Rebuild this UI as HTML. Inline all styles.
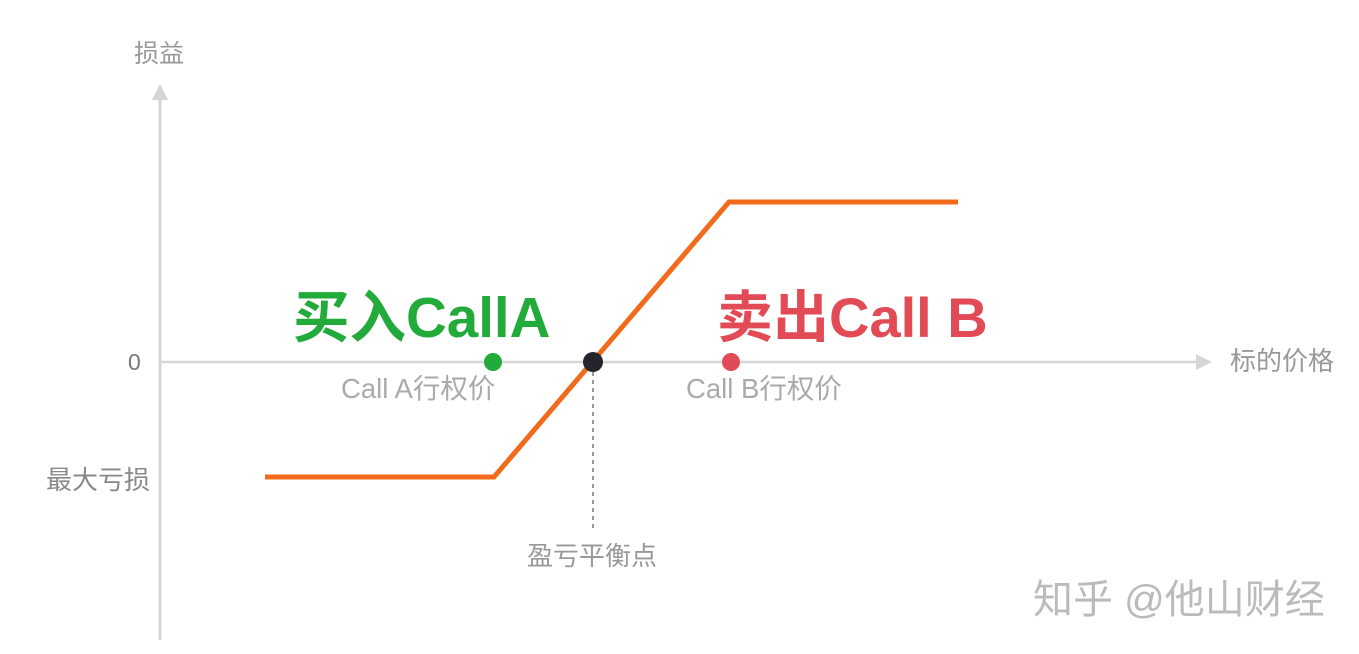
<!DOCTYPE html>
<html><head><meta charset="utf-8"><style>
html,body{margin:0;padding:0;background:#fff;}
svg{display:block;}
text{font-family:"Liberation Sans","Noto Sans CJK SC",sans-serif;}
</style></head><body>
<svg width="1359" height="654" viewBox="0 0 1359 654" xmlns="http://www.w3.org/2000/svg">
<rect width="1359" height="654" fill="#fff"/>
<line x1="160" y1="96" x2="160" y2="640" stroke="#d6d6d6" stroke-width="3"/>
<polygon points="160,84 152,100 168,100" fill="#d6d6d6"/>
<line x1="160" y1="362" x2="1200" y2="362" stroke="#d6d6d6" stroke-width="2.5"/>
<polygon points="1212,362 1196,354 1196,370" fill="#d6d6d6"/>
<line x1="593" y1="372" x2="593" y2="528" stroke="#999" stroke-width="2" stroke-dasharray="4,4"/>
<polyline points="265,477 494,477 729,202 958,202" fill="none" stroke="#f26b1d" stroke-width="5"/>
<circle cx="493" cy="362" r="9" fill="#22aa3a"/>
<circle cx="593" cy="362" r="10" fill="#24242c"/>
<circle cx="731" cy="362" r="9" fill="#e24b55"/>
<text x="134" y="62" font-size="25" fill="#999">损益</text>
<text x="128" y="370" font-size="23" fill="#777">0</text>
<text x="46" y="489" font-size="26" fill="#888">最大亏损</text>
<text x="1230" y="370" font-size="26" fill="#999">标的价格</text>
<text x="341" y="398" font-size="27.5" fill="#aaa">Call A行权价</text>
<text x="686" y="398" font-size="27.5" fill="#aaa">Call B行权价</text>
<text x="527" y="565" font-size="26" fill="#999">盈亏平衡点</text>
<text x="293" y="337" font-size="56.5" font-weight="bold" fill="#22aa3a">买入CallA</text>
<text x="717" y="337" font-size="56" font-weight="bold" fill="#e24b55">卖出Call B</text>
<text x="1033" y="613" font-size="40" fill="#bbb">知乎 @他山财经</text>
</svg>
</body></html>
